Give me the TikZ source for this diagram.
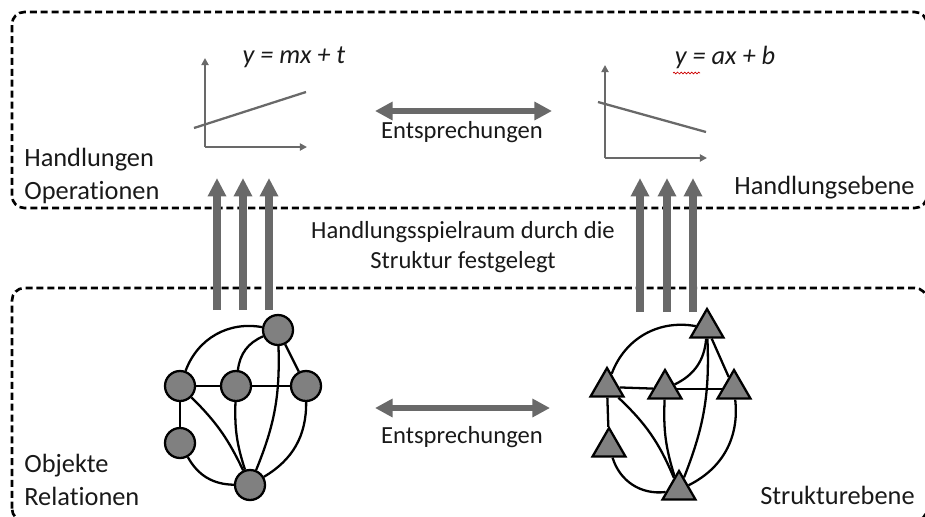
\documentclass[tikz,border=0pt]{standalone}
\usepackage{fontspec}
\setmainfont{Carlito}[Ligatures={NoCommon}, Contextuals={NoAlternate}]
\usetikzlibrary{arrows.meta, shapes.geometric, positioning, calc, decorations.pathmorphing}
\definecolor{nodegray}{RGB}{128,128,128}
\definecolor{arrowgray}{RGB}{105,105,105}
\definecolor{textdark}{RGB}{25,25,25}

\begin{document}
\begin{tikzpicture}[>=Stealth,
    levelbox/.style={draw, line width=1.5pt, dash pattern=on 4pt off 2.2pt,
                     rounded corners=7pt},
    lvltext/.style={font=\fontsize{15}{18.5}\selectfont, text=textdark,
                    inner sep=0pt, align=left},
    midtext/.style={font=\fontsize{14}{17}\selectfont, text=textdark,
                    inner sep=0pt, align=center},
    eqtext/.style={font=\fontsize{15}{18}\selectfont\itshape, text=textdark,
                   inner sep=0pt},
    circnode/.style={circle, draw, line width=1.3pt, fill=nodegray,
                     minimum size=0.6cm, inner sep=0pt},
    trinode/.style={regular polygon, regular polygon sides=3, draw,
                    line width=1.3pt, fill=nodegray, minimum size=0.76cm,
                    inner sep=0pt},
    link/.style={line width=1.3pt},
    axis/.style={-{Triangle[width=4pt,length=4pt]}, line width=1.1pt, arrowgray},
    uparrow/.style={-{Triangle[width=10pt,length=10.5pt]}, line width=4pt, arrowgray},
    dblarrow/.style={{Triangle[width=10pt,length=10pt]}-{Triangle[width=10pt,length=10pt]},
                     line width=3pt, arrowgray}]

    \useasboundingbox (0,0) rectangle (18.5,10.32);
    \clip (0,0) rectangle (18.5,10.32);

    % the two levels
    \draw[levelbox] (0.24,6.16) rectangle (18.54,10.08);
    \draw[levelbox] (0.24,-0.1) rectangle (18.54,4.56);

    \node[lvltext, anchor=west] (handl) at (0.48,6.80) {Handlungen\\Operationen};
    \node[lvltext, anchor=east] (hebene) at (18.3,6.56) {Handlungsebene};
    \node[lvltext, anchor=west] (objrel) at (0.48,0.72) {Objekte\\Relationen};
    \node[lvltext, anchor=east] (sebene) at (18.3,0.42) {Strukturebene};

    % left chart
    \node[eqtext] (eqm) at (5.88,9.18) {y = mx + t};
    \coordinate (lo) at (4.1,7.38);
    \coordinate (ly) at (4.1,9.16);
    \coordinate (lx) at (6.14,7.38);
    \coordinate (lla) at (3.88,7.76);
    \coordinate (llb) at (6.12,8.48);
    \draw[axis] (lo) -- (ly);
    \draw[axis] (lo) -- (lx);
    \draw[line width=1.3pt, arrowgray] (lla) -- (llb);

    % right chart
    \node[eqtext] (eqa) at (14.5,9.18) {y = ax + b};
    \coordinate (ro) at (12.1,7.16);
    \coordinate (ry) at (12.1,9.02);
    \coordinate (rx) at (14.14,7.16);
    \coordinate (rla) at (11.96,8.28);
    \coordinate (rlb) at (14.12,7.68);
    \draw[axis] (ro) -- (ry);
    \draw[axis] (ro) -- (rx);
    \draw[line width=1.3pt, arrowgray] (rla) -- (rlb);
    \draw[red!80!black, line width=0.4pt, decorate,
          decoration={snake, amplitude=0.5pt, segment length=2pt}]
          (13.46,8.86) -- (14.0,8.86);

    % correspondences
    \coordinate (ta) at (7.5,8.1);
    \coordinate (tb) at (11.04,8.1);
    \draw[dblarrow] (ta) -- (tb);
    \node[midtext] (ent1) at (9.24,7.68) {Entsprechungen};

    \coordinate (ba) at (7.5,2.16);
    \coordinate (bb) at (11.0,2.16);
    \draw[dblarrow] (ba) -- (bb);
    \node[midtext] (ent2) at (9.24,1.58) {Entsprechungen};

    \node[midtext] (spiel) at (9.26,5.38) {Handlungsspielraum durch die\\Struktur festgelegt};

    % up arrows
    \foreach \x [count=\i] in {4.34,4.86,5.38} {
        \coordinate (lu\i) at (\x,4.12);
        \coordinate (lt\i) at (\x,6.76);
        \draw[uparrow] (lu\i) -- (lt\i);
    }
    \foreach \x [count=\i] in {12.8,13.34,13.86} {
        \coordinate (ru\i) at (\x,4.08);
        \coordinate (rt\i) at (\x,6.76);
        \draw[uparrow] (ru\i) -- (rt\i);
    }

    % objects, circles
    \node[circnode] (ct) at (5.56,3.72) {};
    \node[circnode] (cl) at (3.6,2.6) {};
    \node[circnode] (cc) at (4.72,2.6) {};
    \node[circnode] (cr) at (6.12,2.6) {};
    \node[circnode] (cd) at (3.6,1.46) {};
    \node[circnode] (cb) at (5.0,0.62) {};

    \draw[link] (cl) to[bend left=40] (ct);
    \draw[link] (cl) -- (cc);
    \draw[link] (cc) -- (cr);
    \draw[link] (ct) -- (cr);
    \draw[link] (cc) to[bend left=30] (ct);
    \draw[link] (ct) to[bend left=12] (cb);
    \draw[link] (cl) -- (cd);
    \draw[link] (cl) to[bend left=10] (cb);
    \draw[link] (cc) to[bend right=10] (cb);
    \draw[link] (cr) to[bend left=30] (cb);
    \draw[link] (cd) to[bend right=30] (cb);

    % objects, triangles
    \node[trinode] (tt) at (14.14,3.76) {};
    \node[trinode] (tl) at (12.14,2.58) {};
    \node[trinode] (tc) at (13.3,2.54) {};
    \node[trinode] (tr) at (14.68,2.54) {};
    \node[trinode] (td) at (12.18,1.38) {};
    \node[trinode] (tbm) at (13.58,0.52) {};

    \draw[link] (tl) to[bend left=40] (tt);
    \draw[link] (tl) -- (tc);
    \draw[link] (tc) -- (tr);
    \draw[link] (tt) -- (tr);
    \draw[link] (tc) to[bend right=30] (tt);
    \draw[link] (tt) to[bend left=12] (tbm);
    \draw[link] (tl) -- (td);
    \draw[link] (tl) to[bend left=12] (tbm);
    \draw[link] (tc) to[bend right=10] (tbm);
    \draw[link] (tr) to[bend left=35] (tbm);
    \draw[link] (td) to[bend right=40] (tbm);

\end{tikzpicture}
\end{document}
